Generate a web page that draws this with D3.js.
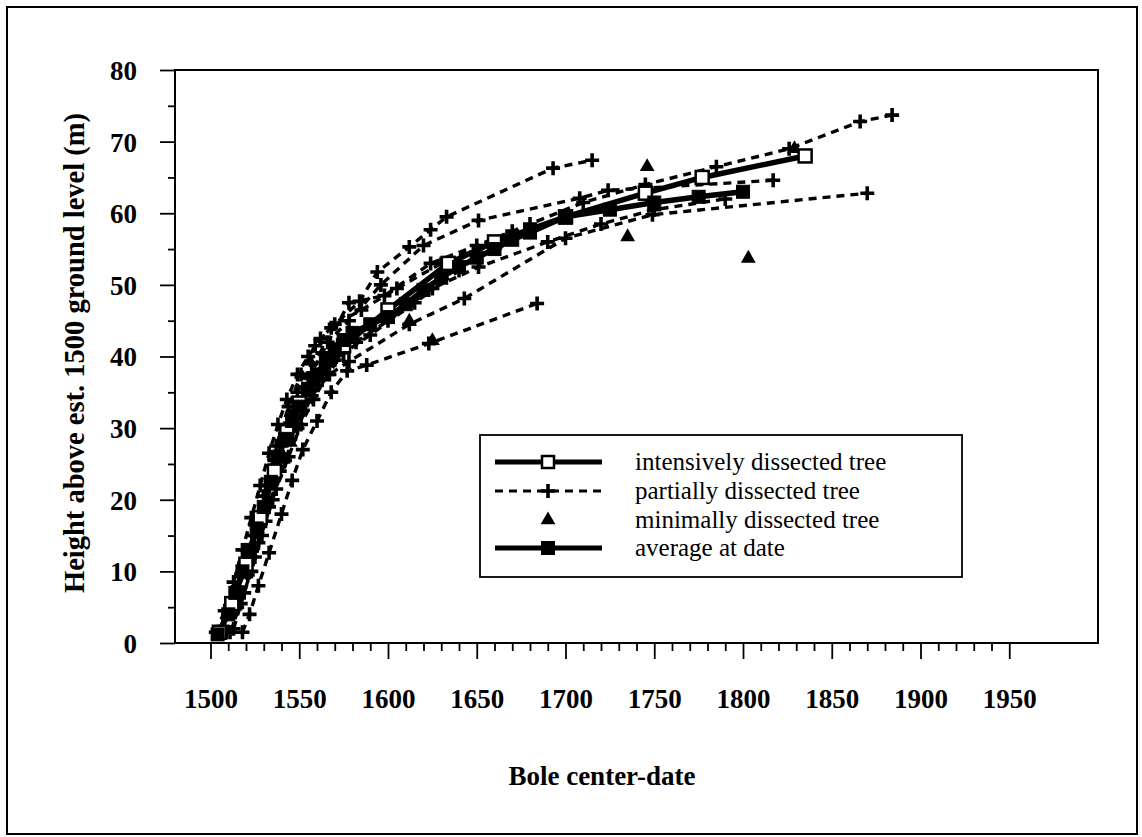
<!DOCTYPE html>
<html><head><meta charset="utf-8">
<script src="https://cdn.jsdelivr.net/npm/d3@7"></script>
<style>body{margin:0;background:#fff} svg{display:block} text{font-family:"Liberation Serif","Times New Roman",serif;fill:#000}</style>
</head><body><svg id="c" width="1142" height="837"></svg>
<script>
// ---- data ----
const xTickLabels = [1500,1550,1600,1650,1700,1750,1800,1850,1900,1950];
const yTickLabels = [0,10,20,30,40,50,60,70,80];

const intensiveYear   = [1505,1512,1520,1528,1536,1543,1550,1575,1600,1634,1660,1700,1745,1777,1835];
const intensiveHeight = [1.5,5.5,11,17.5,24,29.5,33.5,41.5,46.5,53,56,59.5,62.8,65,68];

const averageYear   = [1504,1510,1514,1518,1522,1526,1530,1534,1538,1542,1546,1550,1555,1560,1565,1570,1575,1580,1590,1600,1610,1620,1630,1640,1650,1660,1670,1680,1700,1725,1750,1775,1800];
const averageHeight = [1.2,4,7,10,13,16,19,22.5,26,28.5,31,33,35.5,37.5,39.5,41,42.3,43.3,44.5,45.5,47.3,49.3,51,52.5,53.8,55,56.3,57.3,59.5,60.5,61.5,62.3,63];

const partialAYear   = [1507,1513,1519,1525,1531,1537,1544,1551,1559,1568,1584,1594,1612,1624,1633,1693,1715];
const partialAHeight = [1.5,6,11,16.5,22,27.5,33,37.5,41.5,44,47.7,51.8,55.3,57.7,59.5,66.3,67.4];

const partialBYear   = [1506,1512,1518,1524,1530,1536,1542,1549,1557,1566,1578,1596,1620,1651,1708,1724,1817];
const partialBHeight = [1.5,5,10,15,20.5,25.5,30,35,39,42,45,50,55.5,59,62.1,63.2,64.6];

const partialCYear   = [1508,1515,1521,1527,1533,1540,1547,1555,1563,1578,1598,1624,1650,1680,1710,1745,1785,1826,1866,1884];
const partialCHeight = [1.5,6.5,11.5,17,22,27.5,32.5,37,40.5,47.5,48.5,53,55.5,58.5,61.5,64,66.5,69,72.8,73.7];

const partialDYear   = [1511,1517,1523,1529,1535,1542,1549,1557,1567,1578,1612,1643,1700,1749,1870];
const partialDHeight = [1.5,5.5,10,15,20,25.5,30,34.5,37.5,39.3,44.5,48.1,56.5,59.8,62.8];

const partialEYear   = [1518,1522,1527,1533,1540,1546,1552,1560,1568,1577,1588,1623,1684];
const partialEHeight = [1.5,4,8,12.6,18,22.7,27,31,35,38,38.8,41.8,47.4];

const partialFYear   = [1509,1515,1521,1527,1533,1539,1545,1552,1560,1570,1582,1600,1625,1651,1690,1720,1750,1790];
const partialFHeight = [1.5,5,9.5,14,19,24,28.5,32.5,36,39.5,42,45,49.5,52.5,56,58.5,60.5,62];

const partialGYear   = [1503,1508,1513,1518,1523,1528,1533,1538,1543,1549,1555,1562,1570,1585,1605,1630,1670];
const partialGHeight = [1.5,4.5,8.5,13,17.5,22,26.5,30.5,34,37.5,40,42.5,44.5,46.5,49.5,53,57.5];

const partialHYear   = [1513,1519,1525,1531,1537,1544,1551,1558,1566,1575,1590,1615,1640];
const partialHHeight = [2,7,12,17,21.5,26,30.5,34,37.5,40.5,43,47.5,52];

const minimalYear   = [1746,1735,1803,1612,1625,1829,1520,1545,1575,1650,1700];
const minimalHeight = [66.5,56.7,53.7,44.9,42.2,69,10,28,41,54,59];

const legendLabels = ["intensively dissected tree","partially dissected tree","minimally dissected tree","average at date"];

// ---- chart ----
const svg = d3.select('#c');
const x = d3.scaleLinear().domain([1480,2000]).range([175,1098]);
const y = d3.scaleLinear().domain([0,80]).range([643,70]);

svg.append('rect').attr('x',7).attr('y',7).attr('width',1130).attr('height',827)
  .attr('fill','none').attr('stroke','#000').attr('stroke-width',2);

svg.append('rect').attr('x',x(1480)).attr('y',y(80)).attr('width',x(2000)-x(1480)).attr('height',y(0)-y(80))
  .attr('fill','none').attr('stroke','#000').attr('stroke-width',2);

// x axis
const minorX = d3.range(1510,1950,10).filter(v=>v%50!==0);
const gx = svg.append('g').attr('transform',`translate(0,${y(0)})`);
gx.append('g').call(d3.axisBottom(x).tickValues(minorX).tickSize(8).tickSizeOuter(0).tickFormat(''));
gx.append('g').call(d3.axisBottom(x).tickValues(xTickLabels).tickSize(16).tickSizeOuter(0).tickFormat(d3.format('d')));
gx.selectAll('.domain').remove();
gx.selectAll('line').attr('stroke','#000').attr('stroke-width',1.8);
gx.selectAll('text').attr('y',65).attr('dy',0).style('font-size','27px').style('font-weight','bold');

// y axis
const minorY = d3.range(5,80,10);
const gy = svg.append('g').attr('transform',`translate(${x(1480)},0)`);
gy.append('g').call(d3.axisLeft(y).tickValues(minorY).tickSize(7).tickSizeOuter(0).tickFormat(''));
gy.append('g').call(d3.axisLeft(y).tickValues(yTickLabels).tickSize(15).tickSizeOuter(0).tickFormat(d3.format('d')));
gy.selectAll('.domain').remove();
gy.selectAll('line').attr('stroke','#000').attr('stroke-width',1.8);
gy.selectAll('text').attr('x',-38).attr('dy','0.35em').style('font-size','27px').style('font-weight','bold');

// axis titles
svg.append('text').attr('x',602).attr('y',785).attr('text-anchor','middle')
  .style('font-size','27px').style('font-weight','bold').text('Bole center-date');
svg.append('text').attr('transform',`translate(84,353) rotate(-90)`).attr('text-anchor','middle')
  .style('font-size','28.5px').style('font-weight','bold').text('Height above est. 1500 ground level (m)');

// series
const zip = (xs,ys)=>xs.map((v,i)=>[v,ys[i]]);
const line = d3.line().x(d=>x(d[0])).y(d=>y(d[1]));
const partials = [
  zip(partialEYear,partialEHeight), zip(partialDYear,partialDHeight), zip(partialFYear,partialFHeight),
  zip(partialHYear,partialHHeight), zip(partialGYear,partialGHeight),
  zip(partialBYear,partialBHeight), zip(partialCYear,partialCHeight), zip(partialAYear,partialAHeight)
];
const intensive = zip(intensiveYear,intensiveHeight);
const average = zip(averageYear,averageHeight);
const minimal = zip(minimalYear,minimalHeight);

const plot = svg.append('g');
partials.forEach(p=>{
  plot.append('path').datum(p).attr('d',line).attr('fill','none').attr('stroke','#000')
    .attr('stroke-width',3.4).attr('stroke-dasharray','8,6');
});
plot.append('path').datum(intensive).attr('d',line).attr('fill','none').attr('stroke','#000').attr('stroke-width',5.5);
plot.append('path').datum(average).attr('d',line).attr('fill','none').attr('stroke','#000').attr('stroke-width',5.5);

function plus(g,cx,cy){
  g.append('path').attr('d',`M${cx-7},${cy}H${cx+7}M${cx},${cy-7}V${cy+7}`)
    .attr('stroke','#000').attr('stroke-width',3.6);
}
function tri(g,cx,cy){
  g.append('path').attr('transform',`translate(${cx},${cy})`)
    .attr('d',d3.symbol(d3.symbolTriangle,95)()).attr('fill','#000');
}
function sq(g,cx,cy,open,s){
  g.append('rect').attr('x',cx-s/2).attr('y',cy-s/2).attr('width',s).attr('height',s)
    .attr('fill',open?'#fff':'#000').attr('stroke','#000').attr('stroke-width',open?2.5:1);
}
partials.forEach(p=>p.forEach(d=>plus(plot,x(d[0]),y(d[1]))));
minimal.forEach(d=>tri(plot,x(d[0]),y(d[1])));
intensive.forEach(d=>sq(plot,x(d[0]),y(d[1]),true,13));
average.forEach(d=>sq(plot,x(d[0]),y(d[1]),false,13));

// legend
const lg = svg.append('g');
lg.append('rect').attr('x',480).attr('y',435).attr('width',482).attr('height',142)
  .attr('fill','#fff').attr('stroke','#000').attr('stroke-width',1.8);
const rowY = [462,491,520,548];
const lx1 = 495, lx2 = 602, lmx = 548;
lg.append('line').attr('x1',lx1).attr('x2',lx2).attr('y1',rowY[0]).attr('y2',rowY[0]).attr('stroke','#000').attr('stroke-width',5);
sq(lg,lmx,rowY[0],true,12);
lg.append('line').attr('x1',lx1).attr('x2',lx2).attr('y1',rowY[1]).attr('y2',rowY[1]).attr('stroke','#000').attr('stroke-width',3).attr('stroke-dasharray','8,6');
plus(lg,lmx,rowY[1]);
tri(lg,lmx,rowY[2]);
lg.append('line').attr('x1',lx1).attr('x2',lx2).attr('y1',rowY[3]).attr('y2',rowY[3]).attr('stroke','#000').attr('stroke-width',5);
sq(lg,lmx,rowY[3],false,13);
legendLabels.forEach((t,i)=>{
  lg.append('text').attr('x',635).attr('y',rowY[i]).attr('dy','0.32em').style('font-size','25px').text(t);
});
</script></body></html>
